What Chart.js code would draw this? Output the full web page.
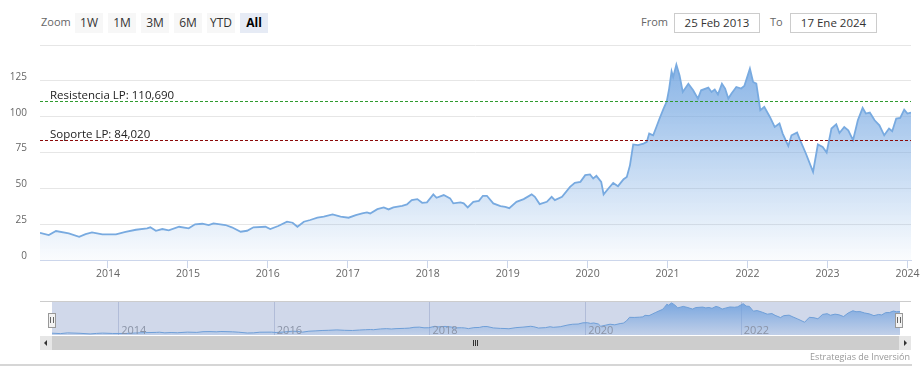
<!DOCTYPE html>
<html>
<head>
<meta charset="utf-8">
<script src="https://cdn.jsdelivr.net/npm/chart.js@4/dist/chart.umd.min.js"></script>
<style>
  body { margin: 0; background: #fff; font-family: "Open Sans", sans-serif; }
  #wrap { position: relative; width: 923px; height: 376px; overflow: hidden; }
  canvas { position: absolute; }
  .txt { position: absolute; font-size: 11px; color: #666; line-height: 20px; }
  #botones { position: absolute; left: 75px; top: 13px; height: 20px; white-space: nowrap; }
  .boton { display: inline-block; width: 28px; height: 20px; margin-right: 5px; background: #f7f7f7;
           color: #333; font-size: 12px; line-height: 20px; text-align: center; vertical-align: top; }
  .boton.activo { background: #e6ebf5; font-weight: bold; color: #000; }
  .caja { position: absolute; top: 13px; height: 18px; border: 1px solid #ccc; background: #fff;
          font-size: 11.5px; color: #333; line-height: 18px; text-align: center; }
  .linea { position: absolute; }
  .asa { position: absolute; top: 313px; width: 6px; height: 13px; background: #f2f2f2; border: 1px solid #999; }
  .asa::before { content: ''; position: absolute; left: 1px; top: 3px; width: 2px; height: 6px;
                 border-left: 1px solid #666; border-right: 1px solid #666; }
  #creditos { position: absolute; right: 13px; top: 350px; font-size: 9px; color: #999; }
</style>
</head>
<body>
<div id="wrap">
  <div class="txt" style="left:41px; top:12px;">Zoom</div>
  <div id="botones"></div>
  <div class="txt" style="left:641px; top:12px;">From</div>
  <div class="caja" id="desde" style="left:674px; width:84px;"></div>
  <div class="txt" style="left:770px; top:12px;">To</div>
  <div class="caja" id="hasta" style="left:790px; width:85px;"></div>

  <canvas id="grafico" width="923" height="290" style="left:0; top:0;"></canvas>

  <!-- navegador -->
  <div class="linea" style="left:40px; top:301px; width:871px; height:1px; background:#ccc;"></div>
  <canvas id="navegador" width="848" height="33" style="left:52px; top:302px;"></canvas>
  <div class="asa" style="left:48px;"></div>
  <div class="asa" style="left:895px;"></div>

  <!-- scrollbar -->
  <div class="linea" style="left:40px; top:336px; width:12px; height:14px; background:#e6e6e6;"></div>
  <div class="linea" style="left:44px; top:340px; width:0; height:0; border-top:3px solid transparent; border-bottom:3px solid transparent; border-right:3px solid #333;"></div>
  <div class="linea" style="left:52px; top:336px; width:847px; height:14px; background:#cdcdcd;"></div>
  <div class="linea" style="left:473px; top:340px; width:1px; height:6px; background:#333;"></div>
  <div class="linea" style="left:475px; top:340px; width:1px; height:6px; background:#333;"></div>
  <div class="linea" style="left:477px; top:340px; width:1px; height:6px; background:#333;"></div>
  <div class="linea" style="left:899px; top:336px; width:12px; height:14px; background:#e6e6e6;"></div>
  <div class="linea" style="left:904px; top:340px; width:0; height:0; border-top:3px solid transparent; border-bottom:3px solid transparent; border-left:3px solid #333;"></div>

  <div id="creditos">Estrategias de Inversión</div>
  <div class="linea" style="left:0; top:364px; width:912px; height:2px; background:#d6d6d6;"></div>
</div>

<script>
// fechas en años decimales (25 Feb 2013 -> 17 Ene 2024)
const fechas = [
  2013.15, 2013.26, 2013.35, 2013.51, 2013.64, 2013.72, 2013.80, 2013.93,
  2014.10, 2014.22, 2014.35, 2014.49, 2014.53, 2014.60, 2014.68, 2014.76, 2014.89,
  2015.01, 2015.09, 2015.18, 2015.26, 2015.32, 2015.47, 2015.55, 2015.66, 2015.74, 2015.82, 2015.97,
  2016.03, 2016.13, 2016.24, 2016.31, 2016.37, 2016.45, 2016.53, 2016.62, 2016.70, 2016.81, 2016.91,
  2017.01, 2017.10, 2017.18, 2017.24, 2017.28, 2017.37, 2017.45, 2017.51, 2017.57, 2017.68, 2017.74, 2017.80, 2017.87, 2017.93, 2017.99,
  2018.07, 2018.11, 2018.20, 2018.28, 2018.32, 2018.41, 2018.45, 2018.50, 2018.57, 2018.64, 2018.69, 2018.74, 2018.82, 2018.91, 2018.97,
  2019.02, 2019.11, 2019.20, 2019.30, 2019.34, 2019.40, 2019.49, 2019.55, 2019.59, 2019.68, 2019.78, 2019.84, 2019.91, 2019.97,
  2020.03, 2020.07, 2020.11, 2020.17, 2020.20, 2020.26, 2020.32, 2020.38, 2020.45, 2020.49, 2020.53, 2020.57, 2020.63, 2020.70, 2020.74, 2020.77, 2020.82, 2020.86, 2020.90, 2020.95, 2020.99,
  2021.02, 2021.05, 2021.07, 2021.11, 2021.15, 2021.19, 2021.26, 2021.32, 2021.38, 2021.42, 2021.51, 2021.55, 2021.59, 2021.63, 2021.68, 2021.72, 2021.76, 2021.80, 2021.86, 2021.92, 2021.96,
  2022.03, 2022.07, 2022.11, 2022.16, 2022.21, 2022.28, 2022.34, 2022.40, 2022.44, 2022.51, 2022.55, 2022.62, 2022.67, 2022.73, 2022.82, 2022.88, 2022.94, 2022.99,
  2023.05, 2023.11, 2023.15, 2023.21, 2023.26, 2023.32, 2023.38, 2023.44, 2023.48, 2023.53, 2023.59, 2023.65, 2023.71, 2023.77, 2023.81, 2023.86, 2023.91, 2023.96,
  2024.00, 2024.045
];
const precios = [
  19.0, 17.4, 20.2, 18.6, 16.2, 18.1, 19.3, 17.9,
  17.9, 19.7, 21.1, 22.1, 22.8, 20.4, 21.6, 20.7, 23.2,
  22.1, 24.9, 25.3, 24.4, 25.6, 24.4, 22.8, 19.7, 20.4, 22.8, 23.2,
  21.6, 23.7, 26.7, 26.0, 23.2, 26.7, 27.9, 29.5, 30.2, 31.8, 30.2,
  29.5, 31.3, 32.5, 33.2, 32.5, 35.5, 36.7, 35.3, 36.7, 37.8, 38.8, 41.8, 42.5, 39.9, 40.2,
  45.8, 43.4, 45.3, 43.0, 39.5, 40.2, 39.5, 36.7, 40.6, 41.3, 44.8, 44.8, 39.5, 37.6, 37.1,
  36.2, 40.6, 42.5, 45.8, 44.1, 39.0, 40.6, 44.1, 41.8, 44.1, 51.0, 53.8, 54.5, 59.2,
  59.7, 56.9, 58.7, 54.5, 45.8, 49.9, 53.8, 51.5, 56.4, 58.0, 66.2, 80.6, 80.1, 81.2, 82.4, 88.2, 87.0, 92.8, 98.7, 105.6, 110.7,
  119.6, 131.6, 127.6, 136.3, 128.8, 117.2, 123.0, 118.4, 112.6, 118.4, 120.3, 117.2, 118.9, 115.4, 123.0, 119.6, 112.6, 116.1, 120.7, 119.6, 121.4,
  133.5, 124.2, 123.0, 104.5, 106.8, 99.8, 92.8, 95.2, 88.2, 79.6, 87.0, 88.9, 82.0, 74.3, 61.5, 80.6, 78.9, 75.0,
  91.7, 94.7, 88.6, 92.8, 90.5, 83.6, 97.5, 106.1, 102.2, 102.9, 97.5, 94.0, 87.0, 91.7, 89.8, 98.7, 99.1, 104.9,
  102.2, 102.9
];
const anos = [2014, 2015, 2016, 2017, 2018, 2019, 2020, 2021, 2022, 2023, 2024];
const anosNavegador = [2014, 2016, 2018, 2020, 2022];
const ticksY = [0, 25, 50, 75, 100, 125, 150];
const nivelesValor = [110.69, 84.02];
const nivelesTexto = ['Resistencia LP: 110,690', 'Soporte LP: 84,020'];
const nivelesColor = ['#2f9a2f', '#8b0a0a'];
const botones = ['1W', '1M', '3M', '6M', 'YTD', 'All'];
const desde = '25 Feb 2013';
const hasta = '17 Ene 2024';

// Botones y fechas
botones.forEach((b, i) => {
    let el = document.createElement('span');
    el.className = 'boton' + (i === botones.length - 1 ? ' activo' : '');
    el.textContent = b;
    document.querySelector('#botones').appendChild(el);
});
document.querySelector('#desde').textContent = desde;
document.querySelector('#hasta').textContent = hasta;

const puntos = fechas.map((f, i) => ({ x: f, y: precios[i] }));

// degradado del area
let degradado = function (ctx, arriba, abajo) {
    let area = ctx.chart.chartArea;
    if (!area) return null;
    let g = ctx.chart.ctx.createLinearGradient(0, area.top, 0, area.bottom);
    g.addColorStop(0, arriba);
    g.addColorStop(1, abajo);
    return g;
};

// lineas de soporte / resistencia
const niveles = {
    id: 'niveles',
    afterDatasetsDraw(chart) {
        const { ctx, chartArea, scales } = chart;
        ctx.save();
        nivelesValor.forEach((v, i) => {
            let y = Math.round(scales.y.getPixelForValue(v)) + 0.5;
            ctx.strokeStyle = nivelesColor[i];
            ctx.lineWidth = 1;
            ctx.setLineDash([3, 2]);
            ctx.beginPath();
            ctx.moveTo(chartArea.left, y);
            ctx.lineTo(chartArea.right, y);
            ctx.stroke();
            ctx.setLineDash([]);
            ctx.fillStyle = '#222';
            ctx.font = '11.5px "Open Sans"';
            ctx.textBaseline = 'alphabetic';
            ctx.fillText(nivelesTexto[i], chartArea.left + 10, y - 3);
        });
        ctx.restore();
    }
};

new Chart(document.getElementById('grafico'), {
    type: 'line',
    data: {
        datasets: [{
            data: puntos,
            borderColor: '#78aae0',
            borderWidth: 1.8,
            pointRadius: 0,
            tension: 0,
            fill: 'origin',
            backgroundColor: ctx => degradado(ctx, 'rgba(118,168,226,0.95)', 'rgba(118,168,226,0.03)')
        }]
    },
    options: {
        responsive: false,
        animation: false,
        layout: { padding: { left: 0, right: 12, top: 45, bottom: 0 } },
        plugins: { legend: { display: false }, tooltip: { enabled: false } },
        scales: {
            x: {
                type: 'linear',
                min: fechas[0],
                max: fechas[fechas.length - 1],
                afterBuildTicks: s => { s.ticks = anos.map(v => ({ value: v })); },
                afterFit: s => { s.height = 30; },
                grid: { drawOnChartArea: false, drawTicks: true, tickLength: 8, color: '#ccd6eb' },
                border: { display: true, color: '#ccd6eb' },
                ticks: {
                    autoSkip: false, maxRotation: 0, padding: 0,
                    color: '#666', font: { family: 'Open Sans', size: 10.5 },
                    callback: v => String(v)
                }
            },
            y: {
                min: 0,
                max: 150,
                afterBuildTicks: s => { s.ticks = ticksY.map(v => ({ value: v })); },
                afterFit: s => { s.width = 40; },
                grid: { color: '#e6e6e6', drawTicks: false },
                border: { display: false },
                ticks: {
                    padding: 13, labelOffset: -4,
                    color: '#666', font: { family: 'Open Sans', size: 10 },
                    callback: v => (v === 150 ? '' : String(v))
                }
            }
        }
    },
    plugins: [niveles]
});

// navegador
const fondoNavegador = {
    id: 'fondoNavegador',
    beforeDatasetsDraw(chart) {
        const { ctx, chartArea, scales } = chart;
        ctx.save();
        ctx.fillStyle = '#d0d8ea';
        ctx.fillRect(chartArea.left, chartArea.top, chartArea.width, chartArea.height);
        ctx.strokeStyle = 'rgba(140,155,195,0.45)';
        ctx.lineWidth = 1;
        anosNavegador.forEach(a => {
            let x = Math.round(scales.x.getPixelForValue(a)) + 0.5;
            ctx.beginPath();
            ctx.moveTo(x, chartArea.top);
            ctx.lineTo(x, chartArea.bottom);
            ctx.stroke();
        });
        ctx.restore();
    },
    afterDatasetsDraw(chart) {
        const { ctx, chartArea, scales } = chart;
        ctx.save();
        ctx.fillStyle = '#8a93a6';
        ctx.font = '11px "Open Sans"';
        anosNavegador.forEach(a => {
            ctx.fillText(String(a), scales.x.getPixelForValue(a) + 3, chartArea.bottom - 1);
        });
        ctx.restore();
    }
};

new Chart(document.getElementById('navegador'), {
    type: 'line',
    data: {
        datasets: [{
            data: puntos,
            borderColor: '#6f9fd8',
            borderWidth: 1,
            pointRadius: 0,
            fill: 'origin',
            backgroundColor: ctx => degradado(ctx, 'rgba(110,160,222,0.9)', 'rgba(110,160,222,0.15)')
        }]
    },
    options: {
        responsive: false,
        animation: false,
        layout: { padding: 0 },
        plugins: { legend: { display: false }, tooltip: { enabled: false } },
        scales: {
            x: { type: 'linear', display: false, min: fechas[0], max: fechas[fechas.length - 1] },
            y: { display: false, min: 12, max: 140 }
        }
    },
    plugins: [fondoNavegador]
});
</script>
</body>
</html>
